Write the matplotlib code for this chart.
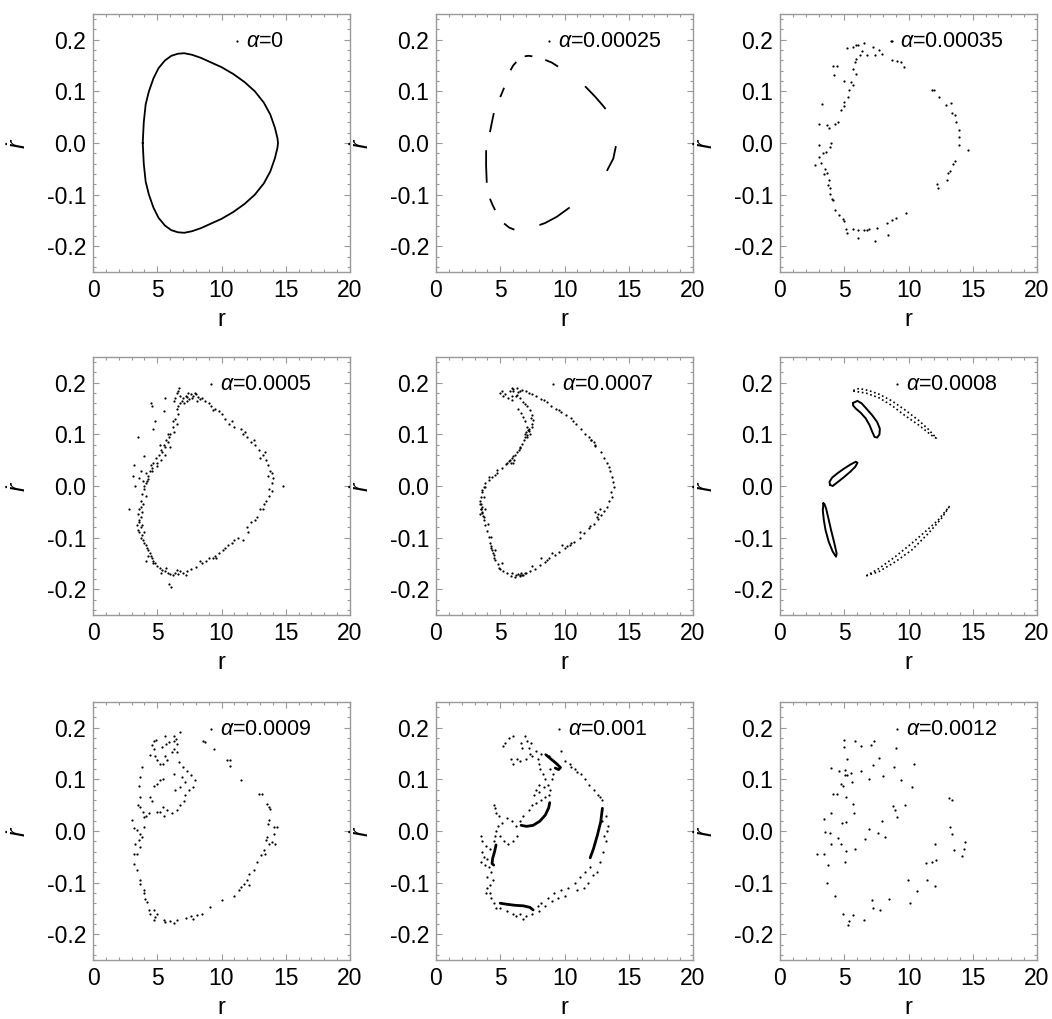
import numpy as np
import matplotlib
matplotlib.use("Agg")
import matplotlib.pyplot as plt
from matplotlib.ticker import MultipleLocator, FormatStrFormatter

plt.rcParams['font.family'] = ['Liberation Sans', 'DejaVu Sans']
plt.rcParams['mathtext.fontset'] = 'custom'
plt.rcParams['mathtext.rm'] = 'Liberation Sans'
plt.rcParams['mathtext.it'] = 'Liberation Sans:italic'
plt.rcParams['mathtext.bf'] = 'Liberation Sans:bold'

# ---------------- data (r, r-dot) ----------------
alphas = ['0', '0.00025', '0.00035', '0.0005', '0.0007', '0.0008', '0.0009', '0.001', '0.0012']

# alpha = 0 : closed invariant curve
p1_r = [3.87, 3.95, 4.1, 4.35, 4.7, 5.1, 5.6, 6.1, 6.6, 7.1, 7.7, 8.4, 9.2, 10.0, 10.9, 11.8, 12.6,
        13.3, 13.8, 14.15, 14.35, 14.4, 14.35, 14.15, 13.8, 13.3, 12.6, 11.8, 10.9, 10.0, 9.2, 8.4,
        7.7, 7.1, 6.6, 6.1, 5.6, 5.1, 4.7, 4.35, 4.1, 3.95, 3.87]
p1_rd = [0.0, 0.04, 0.075, 0.1, 0.125, 0.145, 0.16, 0.169, 0.173, 0.174, 0.171, 0.165, 0.156, 0.147,
         0.134, 0.118, 0.1, 0.078, 0.055, 0.03, 0.01, 0.0, -0.01, -0.03, -0.055, -0.078, -0.1, -0.118,
         -0.134, -0.147, -0.156, -0.165, -0.171, -0.174, -0.173, -0.169, -0.16, -0.145, -0.125, -0.1,
         -0.075, -0.04, 0.0]

# alpha = 0.00025 : chain of short arcs
p2_segments = [
    [(5.8, 0.141), (6.0, 0.150), (6.25, 0.157)],
    [(6.9, 0.168), (7.2, 0.169), (7.5, 0.168)],
    [(8.5, 0.161), (9.0, 0.156), (9.5, 0.148)],
    [(11.6, 0.110), (12.3, 0.092), (12.8, 0.078), (13.2, 0.066)],
    [(14.0, -0.006), (13.8, -0.030), (13.3, -0.054)],
    [(10.4, -0.125), (9.4, -0.143), (8.5, -0.155), (8.05, -0.159)],
    [(5.3, -0.156), (5.7, -0.164), (6.1, -0.168)],
    [(4.2, -0.108), (4.4, -0.120), (4.6, -0.130)],
    [(3.9, -0.014), (3.9, -0.045), (3.95, -0.077)],
    [(4.2, 0.021), (4.35, 0.040), (4.5, 0.058)],
    [(5.0, 0.089), (5.15, 0.098), (5.3, 0.107)],
]

# alpha = 0.00035
p3_pts = [(5.2, 0.185), (5.7, 0.186), (5.9, 0.19), (6.1, 0.189), (6.55, 0.193), (7.2, 0.186), (7.7, 0.18),
          (7.9, 0.173), (7.4, 0.171), (6.8, 0.171), (6.2, 0.17), (6.4, 0.179), (5.9, 0.163), (5.8, 0.157),
          (5.7, 0.144), (5.9, 0.134), (5.5, 0.118), (5.66, 0.112), (5.4, 0.102), (5.3, 0.09), (5.0, 0.079),
          (4.95, 0.071), (4.76, 0.063), (4.5, 0.041), (4.25, 0.036), (4.1, 0.149), (4.4, 0.149), (4.17, 0.131),
          (5.0, 0.12), (3.3, 0.076), (3.04, 0.037), (3.68, 0.035), (3.8, 0.029),
          (3.0, -0.003), (3.0, -0.027), (2.7, -0.043), (3.2, -0.039), (3.35, -0.019), (3.6, -0.017),
          (4.0, 0.0), (3.9, -0.008), (3.47, -0.05), (3.4, -0.06), (3.68, -0.059), (3.8, -0.072),
          (3.73, -0.082), (3.86, -0.088), (3.9, -0.098), (4.07, -0.108), (4.12, -0.111), (4.25, -0.13),
          (4.63, -0.14), (4.89, -0.148), (5.0, -0.151), (5.15, -0.166), (5.2, -0.175), (5.66, -0.166),
          (6.05, -0.185), (6.1, -0.169), (6.5, -0.168), (6.8, -0.169), (6.95, -0.166), (7.4, -0.19),
          (7.55, -0.165), (8.3, -0.155), (8.4, -0.179), (8.75, -0.15), (9.0, -0.146), (9.8, -0.135),
          (8.75, 0.161), (9.1, 0.158), (9.4, 0.157), (9.65, 0.148), (8.7, 0.198),
          (11.84, 0.103), (11.96, 0.102), (12.4, 0.089), (12.9, 0.073), (13.3, 0.077), (13.4, 0.058),
          (13.6, 0.054), (13.7, 0.041), (13.9, 0.025), (13.95, 0.012), (13.9, -0.003), (14.6, -0.014),
          (13.64, -0.035), (13.5, -0.04), (13.2, -0.054), (13.1, -0.058), (13.0, -0.071), (12.2, -0.079),
          (12.3, -0.088)]

# alpha = 0.0005
p4_pts = [(3.9, 0.01), (4.0, -0.005), (3.8, -0.015), (4.1, -0.02), (3.7, -0.03), (3.9, -0.035), (3.6, -0.045),
          (3.8, -0.05), (3.5, -0.055), (3.7, -0.06), (3.6, -0.07), (3.4, -0.075), (3.7, -0.08), (3.5, -0.085),
          (3.6, -0.09), (3.8, -0.095), (3.7, -0.1), (3.9, -0.105), (4.0, -0.11), (4.1, -0.115), (4.2, -0.12),
          (4.3, -0.125), (4.4, -0.13), (4.5, -0.135), (4.6, -0.14), (4.7, -0.145), (4.8, -0.15), (5.0, -0.155),
          (5.2, -0.158), (5.4, -0.162), (5.6, -0.165), (5.8, -0.168), (6.0, -0.17), (6.2, -0.172), (6.4, -0.168),
          (6.6, -0.17), (6.8, -0.165), (7.0, -0.168), (4.1, -0.145), (2.8, -0.045), (6.1, -0.195), (5.9, -0.19),
          (7.3, -0.165), (7.6, -0.16), (8.0, -0.157), (8.5, -0.15), (8.8, -0.145), (9.0, -0.14), (9.3, -0.14),
          (9.5, -0.135), (9.8, -0.13), (10.1, -0.125), (10.3, -0.12), (10.5, -0.115), (10.8, -0.11),
          (11.3, -0.1), (11.7, -0.105), (12.0, -0.08), (12.3, -0.07), (12.6, -0.065), (12.8, -0.06),
          (13.0, -0.045), (13.3, -0.035), (13.5, -0.03), (13.7, -0.02), (13.9, -0.01), (13.9, 0.005),
          (14.0, 0.015), (13.9, 0.025), (13.8, 0.03), (14.8, 0.0),
          (13.6, 0.04), (13.5, 0.05), (13.2, 0.06), (13.4, 0.065), (12.9, 0.07), (12.6, 0.08), (12.3, 0.085),
          (12.5, 0.09), (12.0, 0.095), (11.7, 0.1), (11.5, 0.11), (11.0, 0.115), (10.6, 0.12), (10.3, 0.13),
          (10.0, 0.14), (9.8, 0.145), (9.5, 0.15), (9.2, 0.155), (9.0, 0.16), (8.7, 0.165), (8.5, 0.17),
          (7.0, 0.17), (7.2, 0.175), (7.4, 0.18), (7.6, 0.178), (7.8, 0.175), (8.0, 0.178), (8.2, 0.172),
          (7.5, 0.168), (7.3, 0.165), (7.1, 0.16), (6.9, 0.165), (6.8, 0.175), (6.7, 0.19), (6.6, 0.185),
          (6.5, 0.18), (6.4, 0.17), (6.3, 0.165), (6.6, 0.155), (6.8, 0.16), (7.7, 0.17), (8.1, 0.165),
          (6.5, 0.15), (6.6, 0.14), (6.4, 0.13), (6.5, 0.12), (6.2, 0.115), (6.3, 0.105), (6.0, 0.1),
          (5.9, 0.095), (5.7, 0.09), (5.8, 0.085), (5.5, 0.08), (5.6, 0.075), (5.3, 0.07), (5.4, 0.065),
          (5.1, 0.06), (4.9, 0.055), (5.0, 0.045), (4.7, 0.045), (4.6, 0.035), (4.4, 0.03), (4.3, 0.02),
          (4.2, 0.01), (4.0, 0.0), (4.1, 0.005),
          (4.3, 0.013), (4.6, 0.029), (5.0, 0.039), (5.3, 0.05), (5.6, 0.06), (6.0, 0.075),
          (4.5, 0.16), (4.6, 0.155), (5.6, 0.17), (5.5, 0.145), (4.8, 0.125), (4.7, 0.11), (3.5, 0.095),
          (4.0, 0.058), (3.2, 0.04), (3.1, 0.02), (3.3, 0.0), (3.7, 0.03), (3.6, 0.015),
          (3.75, -0.04), (3.55, -0.065), (3.85, -0.075), (3.95, -0.09), (4.25, -0.135), (4.65, -0.15),
          (5.3, -0.168), (5.7, -0.158), (6.5, -0.162), (7.2, -0.172), (8.3, -0.145), (9.6, -0.14),
          (11.0, -0.105), (12.1, -0.09), (13.2, -0.045), (13.7, -0.005), (13.6, 0.02), (13.0, 0.055),
          (11.8, 0.105), (10.8, 0.125), (9.3, 0.148), (8.3, 0.168), (7.9, 0.18), (7.3, 0.172), (6.2, 0.125),
          (5.8, 0.1), (5.2, 0.08), (4.5, 0.04), (4.1, 0.025)]

# alpha = 0.0007
p5_pts = [(5.13, 0.185), (5.9, 0.189), (6.67, 0.187), (7.44, 0.179), (8.2, 0.169), (8.97, 0.156), (9.74, 0.144),
          (10.5, 0.131), (11.28, 0.111), (12.05, 0.089), (12.82, 0.066), (13.33, 0.044), (13.72, 0.018),
          (13.85, -0.002), (13.72, -0.021), (13.33, -0.04), (12.82, -0.056), (12.31, -0.073), (11.54, -0.092),
          (10.77, -0.108), (10.0, -0.121), (9.23, -0.134), (8.46, -0.147), (7.69, -0.16), (6.92, -0.169),
          (6.15, -0.176), (5.51, -0.169), (5.0, -0.16), (4.62, -0.144), (4.36, -0.124), (4.1, -0.098),
          (3.85, -0.076), (3.59, -0.053), (3.46, -0.034), (3.59, -0.011), (3.85, 0.005), (4.36, 0.018),
          (5.13, 0.034), (5.77, 0.05), (6.28, 0.066), (6.67, 0.082), (7.05, 0.098), (7.44, 0.115),
          (7.56, 0.127), (7.31, 0.147), (6.79, 0.163), (6.28, 0.176), (5.77, 0.185),
          (6.0, 0.188), (7.0, 0.184), (7.8, 0.174), (8.6, 0.163), (9.35, 0.15), (10.1, 0.138), (10.9, 0.121),
          (11.6, 0.1), (12.4, 0.078), (13.1, 0.055), (13.55, 0.03), (13.8, 0.008), (13.5, -0.03),
          (13.1, -0.048), (12.6, -0.064), (11.9, -0.082), (11.2, -0.1), (10.4, -0.114), (9.6, -0.128),
          (8.8, -0.14), (8.1, -0.153), (7.3, -0.165), (6.5, -0.172), (5.8, -0.174), (5.25, -0.165),
          (4.8, -0.152), (4.5, -0.134), (4.2, -0.11), (3.95, -0.087), (3.7, -0.065), (3.5, -0.045),
          (3.5, -0.022), (3.7, -0.002), (4.1, 0.012), (4.75, 0.026), (5.45, 0.042), (6.0, 0.058),
          (6.5, 0.074), (6.85, 0.09), (7.25, 0.106), (7.5, 0.121), (7.45, 0.137), (7.05, 0.155),
          (6.55, 0.17), (5.4, 0.179), (5.9, 0.166), (6.41, 0.15), (6.79, 0.134), (7.05, 0.115),
          (6.92, 0.095), (6.54, 0.076), (6.15, 0.06), (5.51, 0.044), (4.74, 0.031), (4.1, 0.018),
          (3.85, -0.002), (3.72, -0.021), (3.85, -0.044), (4.05, -0.073), (4.31, -0.098), (4.62, -0.124),
          (5.13, -0.15), (5.9, -0.169), (6.79, -0.173),
          (3.4, -0.03), (3.5, -0.045), (3.6, -0.05), (3.45, -0.055), (3.55, -0.04), (3.7, -0.06),
          (3.5, -0.035), (5.0, 0.18), (5.2, 0.175), (5.6, 0.17), (6.0, 0.185), (6.3, 0.19), (6.5, 0.185),
          (6.2, 0.175), (5.9, 0.175), (7.0, 0.105), (7.1, 0.095), (7.3, 0.1), (7.2, 0.11), (6.9, 0.1),
          (5.9, 0.055), (6.0, 0.045), (6.1, 0.05), (5.8, 0.045), (6.4, -0.17), (6.6, -0.168), (6.7, -0.172),
          (6.5, -0.175), (6.2, -0.172), (12.4, -0.05), (12.6, -0.055), (12.8, -0.045), (12.5, -0.06),
          (12.1, 0.09), (12.3, 0.085), (12.4, 0.08), (11.2, -0.09), (10.5, -0.11), (9.8, -0.115),
          (9.0, -0.13), (8.2, -0.14), (7.5, -0.155), (4.4, -0.13), (4.5, -0.14), (4.3, -0.12),
          (6.35, 0.182), (7.2, 0.18), (8.4, 0.166), (9.55, 0.147), (10.7, 0.126), (11.9, 0.094),
          (13.45, 0.037), (13.65, -0.012), (12.0, -0.078), (10.2, -0.117), (8.6, -0.143), (7.0, -0.168),
          (4.9, -0.158), (4.25, -0.116), (3.62, -0.058), (3.55, -0.008), (4.6, 0.022), (5.7, 0.049),
          (6.45, 0.07), (7.15, 0.108), (7.4, 0.132), (6.9, 0.158), (6.6, 0.142), (6.95, 0.125)]

# alpha = 0.0008 : five islands (closed loops)
p6_islandA_upper = [(5.7, 0.185), (6.15, 0.189), (6.9, 0.185), (7.7, 0.178), (8.7, 0.165), (9.7, 0.148),
                    (10.8, 0.127), (11.5, 0.111), (12.2, 0.092)]
p6_islandA_lower = [(5.7, 0.184), (6.7, 0.180), (7.7, 0.171), (8.7, 0.156), (9.7, 0.137), (10.8, 0.118),
                    (11.8, 0.098), (12.2, 0.092)]
p6_islandB = [(5.69, 0.161), (6.03, 0.165), (6.36, 0.16), (6.72, 0.15), (7.18, 0.137), (7.56, 0.124),
              (7.77, 0.111), (7.74, 0.1), (7.56, 0.094), (7.36, 0.095), (7.18, 0.105), (6.97, 0.118),
              (6.67, 0.131), (6.28, 0.142), (5.9, 0.15), (5.69, 0.156), (5.69, 0.161)]
p6_islandC = [(3.9, 0.002), (3.85, 0.008), (4.05, 0.016), (4.49, 0.025), (5.0, 0.034), (5.51, 0.042),
              (5.9, 0.047), (6.03, 0.045), (5.85, 0.037), (5.44, 0.027), (4.92, 0.016), (4.41, 0.006),
              (4.1, 0.0), (3.9, 0.002)]
p6_islandD = [(3.38, -0.034), (3.33, -0.047), (3.41, -0.066), (3.54, -0.085), (3.79, -0.108), (4.1, -0.127),
              (4.36, -0.137), (4.41, -0.131), (4.23, -0.111), (3.97, -0.085), (3.77, -0.063), (3.59, -0.044),
              (3.46, -0.035), (3.38, -0.034)]
p6_islandE_lower = [(6.72, -0.174), (7.69, -0.166), (8.97, -0.147), (10.26, -0.124), (11.54, -0.092),
                    (12.56, -0.063), (13.2, -0.039)]
p6_islandE_upper = [(6.72, -0.174), (7.69, -0.16), (8.97, -0.137), (10.26, -0.111), (11.28, -0.089),
                    (12.31, -0.066), (13.2, -0.039)]

# alpha = 0.0009
p7_pts = [(4.73, 0.174), (4.94, 0.177), (4.6, 0.166), (4.78, 0.159), (4.42, 0.148), (4.86, 0.145), (5.0, 0.137),
          (5.19, 0.13), (5.45, 0.13), (5.77, 0.137), (5.64, 0.146), (5.38, 0.163), (5.71, 0.169), (5.64, 0.185),
          (6.29, 0.185), (5.9, 0.172), (6.29, 0.175), (6.47, 0.179), (6.5, 0.169), (6.34, 0.159), (6.16, 0.153),
          (6.55, 0.153), (6.8, 0.192), (6.68, 0.134), (7.0, 0.124), (7.3, 0.117), (7.6, 0.108), (7.9, 0.098),
          (7.8, 0.085), (7.45, 0.079), (7.19, 0.069), (7.06, 0.059), (6.8, 0.05), (6.55, 0.04), (6.16, 0.034),
          (5.77, 0.04), (5.45, 0.046), (5.25, 0.037), (5.56, 0.03), (5.0, 0.037), (5.2, 0.098), (5.45, 0.101),
          (5.0, 0.092), (4.73, 0.088), (6.29, 0.111), (6.9, 0.105), (7.19, 0.095), (6.8, 0.085), (6.42, 0.079),
          (3.82, 0.125), (3.69, 0.105), (3.56, 0.088), (3.69, 0.066), (3.48, 0.05), (3.69, 0.046), (3.9, 0.037),
          (4.13, 0.03), (4.34, 0.034), (4.42, 0.066), (4.6, 0.059), (3.95, 0.028), (3.04, 0.021), (3.17, 0.005),
          (3.43, 0.001), (3.69, -0.005), (3.95, 0.008), (3.82, -0.012), (3.56, -0.018), (3.3, -0.025),
          (3.17, -0.044), (3.43, -0.045), (3.69, -0.031), (3.22, -0.063), (3.43, -0.076), (3.64, -0.095),
          (3.69, -0.103), (3.95, -0.115), (4.0, -0.121), (4.08, -0.131), (4.21, -0.137), (4.34, -0.154),
          (4.47, -0.16), (4.73, -0.154), (4.86, -0.166), (4.73, -0.173), (5.0, -0.16),
          (5.5, -0.172), (5.64, -0.176), (6.0, -0.174), (6.29, -0.179), (6.55, -0.172), (7.2, -0.168),
          (7.6, -0.165), (7.8, -0.17), (8.1, -0.163), (8.5, -0.16), (9.14, -0.147), (10.05, -0.134),
          (10.96, -0.125), (11.35, -0.115), (11.5, -0.108), (11.74, -0.102), (11.95, -0.094), (12.13, -0.083),
          (12.13, -0.105), (12.5, -0.076), (12.73, -0.06), (13.1, -0.047), (13.3, -0.037), (13.4, -0.044),
          (13.5, -0.018), (13.56, -0.012), (13.69, -0.025), (13.95, -0.021), (14.2, -0.025), (14.08, -0.005),
          (14.08, 0.008), (14.3, 0.008), (13.6, 0.013), (13.69, 0.021), (13.69, 0.046), (13.56, 0.053),
          (13.8, 0.043), (12.9, 0.072), (13.17, 0.071), (11.53, 0.099), (10.65, 0.126), (10.44, 0.138),
          (10.7, 0.138), (9.4, 0.159), (8.75, 0.172), (8.57, 0.175)]

# alpha = 0.001 : scattered points plus dense island arcs
p8_pts = [(5.4, 0.17), (5.7, 0.18), (6.0, 0.185), (5.2, 0.165), (6.9, 0.185), (7.1, 0.175), (7.4, 0.17),
          (7.2, 0.16), (6.7, 0.16), (6.3, 0.14), (6.0, 0.13), (5.8, 0.14), (6.5, 0.135), (7.0, 0.14),
          (7.5, 0.145), (7.9, 0.14), (8.2, 0.15), (8.5, 0.15), (8.8, 0.145), (9.7, 0.155), (7.8, 0.155),
          (6.6, 0.17), (7.3, 0.15), (8.0, 0.13),
          (10.0, 0.135), (10.4, 0.13), (10.8, 0.12), (11.3, 0.11), (11.6, 0.1), (11.9, 0.09), (12.3, 0.08),
          (12.6, 0.07), (12.9, 0.06), (12.8, 0.065), (11.0, 0.115), (10.5, 0.125),
          (13.2, 0.03), (13.3, 0.0), (13.2, -0.02), (13.0, -0.04), (12.8, -0.06), (13.4, 0.01), (12.9, 0.02),
          (13.1, -0.01),
          (12.0, -0.07), (11.6, -0.08), (11.2, -0.09), (11.8, -0.1), (11.5, -0.11), (10.8, -0.1), (10.3, -0.11),
          (9.7, -0.115), (9.2, -0.12), (8.7, -0.13), (8.2, -0.14), (7.9, -0.145), (10.0, -0.125), (9.5, -0.13),
          (9.0, -0.135), (8.5, -0.145), (11.0, -0.115), (12.2, -0.085), (12.5, -0.08),
          (5.0, -0.15), (5.5, -0.155), (6.0, -0.16), (6.5, -0.16), (7.0, -0.165), (6.8, -0.17), (6.2, -0.165),
          (4.7, -0.15), (7.5, -0.16), (8.0, -0.155),
          (4.5, -0.14), (4.3, -0.13), (4.2, -0.12), (4.2, -0.105), (4.0, -0.09), (4.3, -0.08), (4.1, -0.07),
          (3.8, -0.065), (4.0, -0.11), (4.4, -0.095), (3.9, -0.12),
          (3.5, -0.01), (3.6, -0.04), (3.7, -0.05), (3.5, -0.06), (3.9, -0.03), (4.0, -0.055), (4.2, -0.035),
          (4.6, -0.01), (4.7, 0.0), (4.5, -0.02), (3.6, -0.02),
          (4.8, 0.01), (5.0, -0.01), (5.3, -0.02), (5.6, -0.025), (6.0, -0.02), (6.3, -0.01), (6.2, 0.01),
          (5.9, 0.02), (5.5, 0.025), (5.1, 0.015), (4.6, 0.045), (4.5, 0.05), (4.7, 0.035), (4.9, 0.03),
          (6.5, 0.02), (6.8, 0.03), (7.2, 0.04), (7.5, 0.05), (7.8, 0.055), (8.2, 0.06), (8.5, 0.065),
          (8.8, 0.07), (8.9, 0.08), (8.7, 0.09), (8.5, 0.1), (8.3, 0.11), (8.1, 0.12), (8.4, 0.085),
          (8.0, 0.09), (7.8, 0.08), (9.0, 0.1), (9.1, 0.11), (8.9, 0.12), (7.6, 0.07), (8.0, 0.075)]
p8_arcs = [
    [(8.59, 0.147), (8.97, 0.139), (9.36, 0.131), (9.69, 0.123), (9.54, 0.119), (9.28, 0.122)],
    [(6.62, 0.011), (7.05, 0.009), (7.56, 0.011), (8.08, 0.019), (8.51, 0.031), (8.77, 0.045), (8.85, 0.055)],
    [(4.67, -0.027), (4.56, -0.04), (4.41, -0.053), (4.36, -0.063), (4.49, -0.066)],
    [(5.0, -0.14), (5.51, -0.142), (6.15, -0.144), (6.79, -0.145), (7.31, -0.148), (7.56, -0.153)],
    [(12.0, -0.052), (12.26, -0.034), (12.56, -0.008), (12.82, 0.018), (12.95, 0.044)],
]

# alpha = 0.0012
p9_pts = [(4.97, 0.177), (4.97, 0.163), (5.87, 0.175), (6.31, 0.165), (7.08, 0.166), (7.34, 0.175), (7.72, 0.142),
          (9.0, 0.161), (5.22, 0.139), (3.94, 0.123), (4.58, 0.117), (5.02, 0.119), (5.07, 0.109), (5.2, 0.108),
          (5.53, 0.112), (6.31, 0.117), (7.26, 0.128), (6.95, 0.101), (7.98, 0.106), (8.88, 0.124), (9.4, 0.099),
          (10.42, 0.129), (10.3, 0.085), (4.76, 0.092), (4.89, 0.088), (4.12, 0.071), (4.43, 0.071), (5.1, 0.066),
          (5.61, 0.094), (5.66, 0.053), (5.79, 0.035), (3.99, 0.035), (3.4, 0.024), (5.15, 0.017), (4.84, 0.015),
          (3.47, -0.002), (3.86, -0.003), (4.5, -0.014), (3.99, -0.025), (4.76, -0.025), (5.15, -0.039),
          (5.87, -0.034), (6.64, -0.015), (6.95, 0.003), (7.59, -0.003), (7.92, 0.019), (8.19, -0.012),
          (8.83, 0.048), (8.96, 0.041), (9.14, 0.028), (9.73, 0.05), (2.91, -0.044), (3.4, -0.044), (5.02, -0.06),
          (3.73, -0.066), (3.68, -0.101), (4.25, -0.125), (4.94, -0.16), (5.35, -0.174), (5.28, -0.183),
          (5.66, -0.163), (6.51, -0.172), (7.16, -0.134), (7.26, -0.149), (7.77, -0.154), (8.5, -0.132),
          (9.99, -0.094), (10.09, -0.139), (10.68, -0.116), (11.45, -0.094), (11.4, -0.062), (11.79, -0.06),
          (12.15, -0.057), (12.05, -0.026), (12.05, -0.107), (13.13, 0.063), (13.38, 0.061), (13.26, 0.008),
          (13.38, -0.005), (13.51, -0.037), (14.2, -0.049), (14.34, -0.034), (14.4, -0.021)]

x_ticks = [0, 5, 10, 15, 20]
y_ticks = [-0.2, -0.1, 0.0, 0.1, 0.2]

# legend marker x-position (axes fraction) per panel
legend_x = [0.56, 0.44, 0.43, 0.46, 0.456, 0.456, 0.46, 0.48, 0.455]

# ---------------- figure ----------------
W, H = 1052, 1019
fig = plt.figure(figsize=(W / 100, H / 100), dpi=100)
col_left = [93, 436, 780]
row_top = [14, 357, 702]
aw, ah = 257, 258

frame_col = '#999999'
dot = dict(ls='none', marker='o', ms=1.6, mew=0, color='black')

axes = []
for i in range(3):
    for j in range(3):
        ax = fig.add_axes([col_left[j] / W, 1 - (row_top[i] + ah) / H, aw / W, ah / H])
        axes.append(ax)

def style(ax, k):
    ax.set_xlim(0, 20)
    ax.set_ylim(-0.25, 0.25)
    ax.set_xticks(x_ticks)
    ax.set_yticks(y_ticks)
    ax.xaxis.set_minor_locator(MultipleLocator(1))
    ax.yaxis.set_minor_locator(MultipleLocator(0.02))
    ax.yaxis.set_major_formatter(FormatStrFormatter('%.1f'))
    ax.tick_params(which='both', direction='in', top=True, right=True, color=frame_col,
                   labelsize=16.5, width=0.8)
    ax.tick_params(which='major', length=4.5, pad=5)
    ax.tick_params(which='minor', length=2.5)
    for s in ax.spines.values():
        s.set_color(frame_col)
        s.set_linewidth(1.0)
    ax.set_xlabel('r', fontsize=17, labelpad=5)
    ax.set_ylabel(r'$\dot{r}$', fontsize=18, labelpad=11)
    lx = legend_x[k]
    ax.plot([lx], [0.895], transform=ax.transAxes, **dot)
    ax.text(lx + 0.035, 0.895, r'$\alpha$=' + alphas[k], transform=ax.transAxes,
            fontsize=15.5, va='center', ha='left')

# panel 1
axes[0].plot(p1_r, p1_rd, color='black', lw=1.3)
# panel 2
for seg in p2_segments:
    r, rd = np.array(seg).T
    axes[1].plot(r, rd, color='black', lw=1.3, solid_capstyle='butt')
# scattered panels
for ax, pts in [(axes[2], p3_pts), (axes[3], p4_pts), (axes[4], p5_pts), (axes[6], p7_pts), (axes[8], p9_pts)]:
    r, rd = np.array(pts).T
    ax.plot(r, rd, **dot)
# panel 6
for isl in [p6_islandB, p6_islandC, p6_islandD]:
    r, rd = np.array(isl).T
    axes[5].plot(r, rd, color='black', lw=1.4)
for isl in [p6_islandA_upper, p6_islandA_lower, p6_islandE_lower, p6_islandE_upper]:
    r, rd = np.array(isl).T
    axes[5].plot(r, rd, color='black', lw=1.2, ls=(0, (1, 1.6)))
# panel 8
r, rd = np.array(p8_pts).T
axes[7].plot(r, rd, **dot)
for arc in p8_arcs:
    r, rd = np.array(arc).T
    axes[7].plot(r, rd, color='black', lw=2.0, solid_capstyle='round')

for k, ax in enumerate(axes):
    style(ax, k)

fig.savefig('out.png', dpi=100)
